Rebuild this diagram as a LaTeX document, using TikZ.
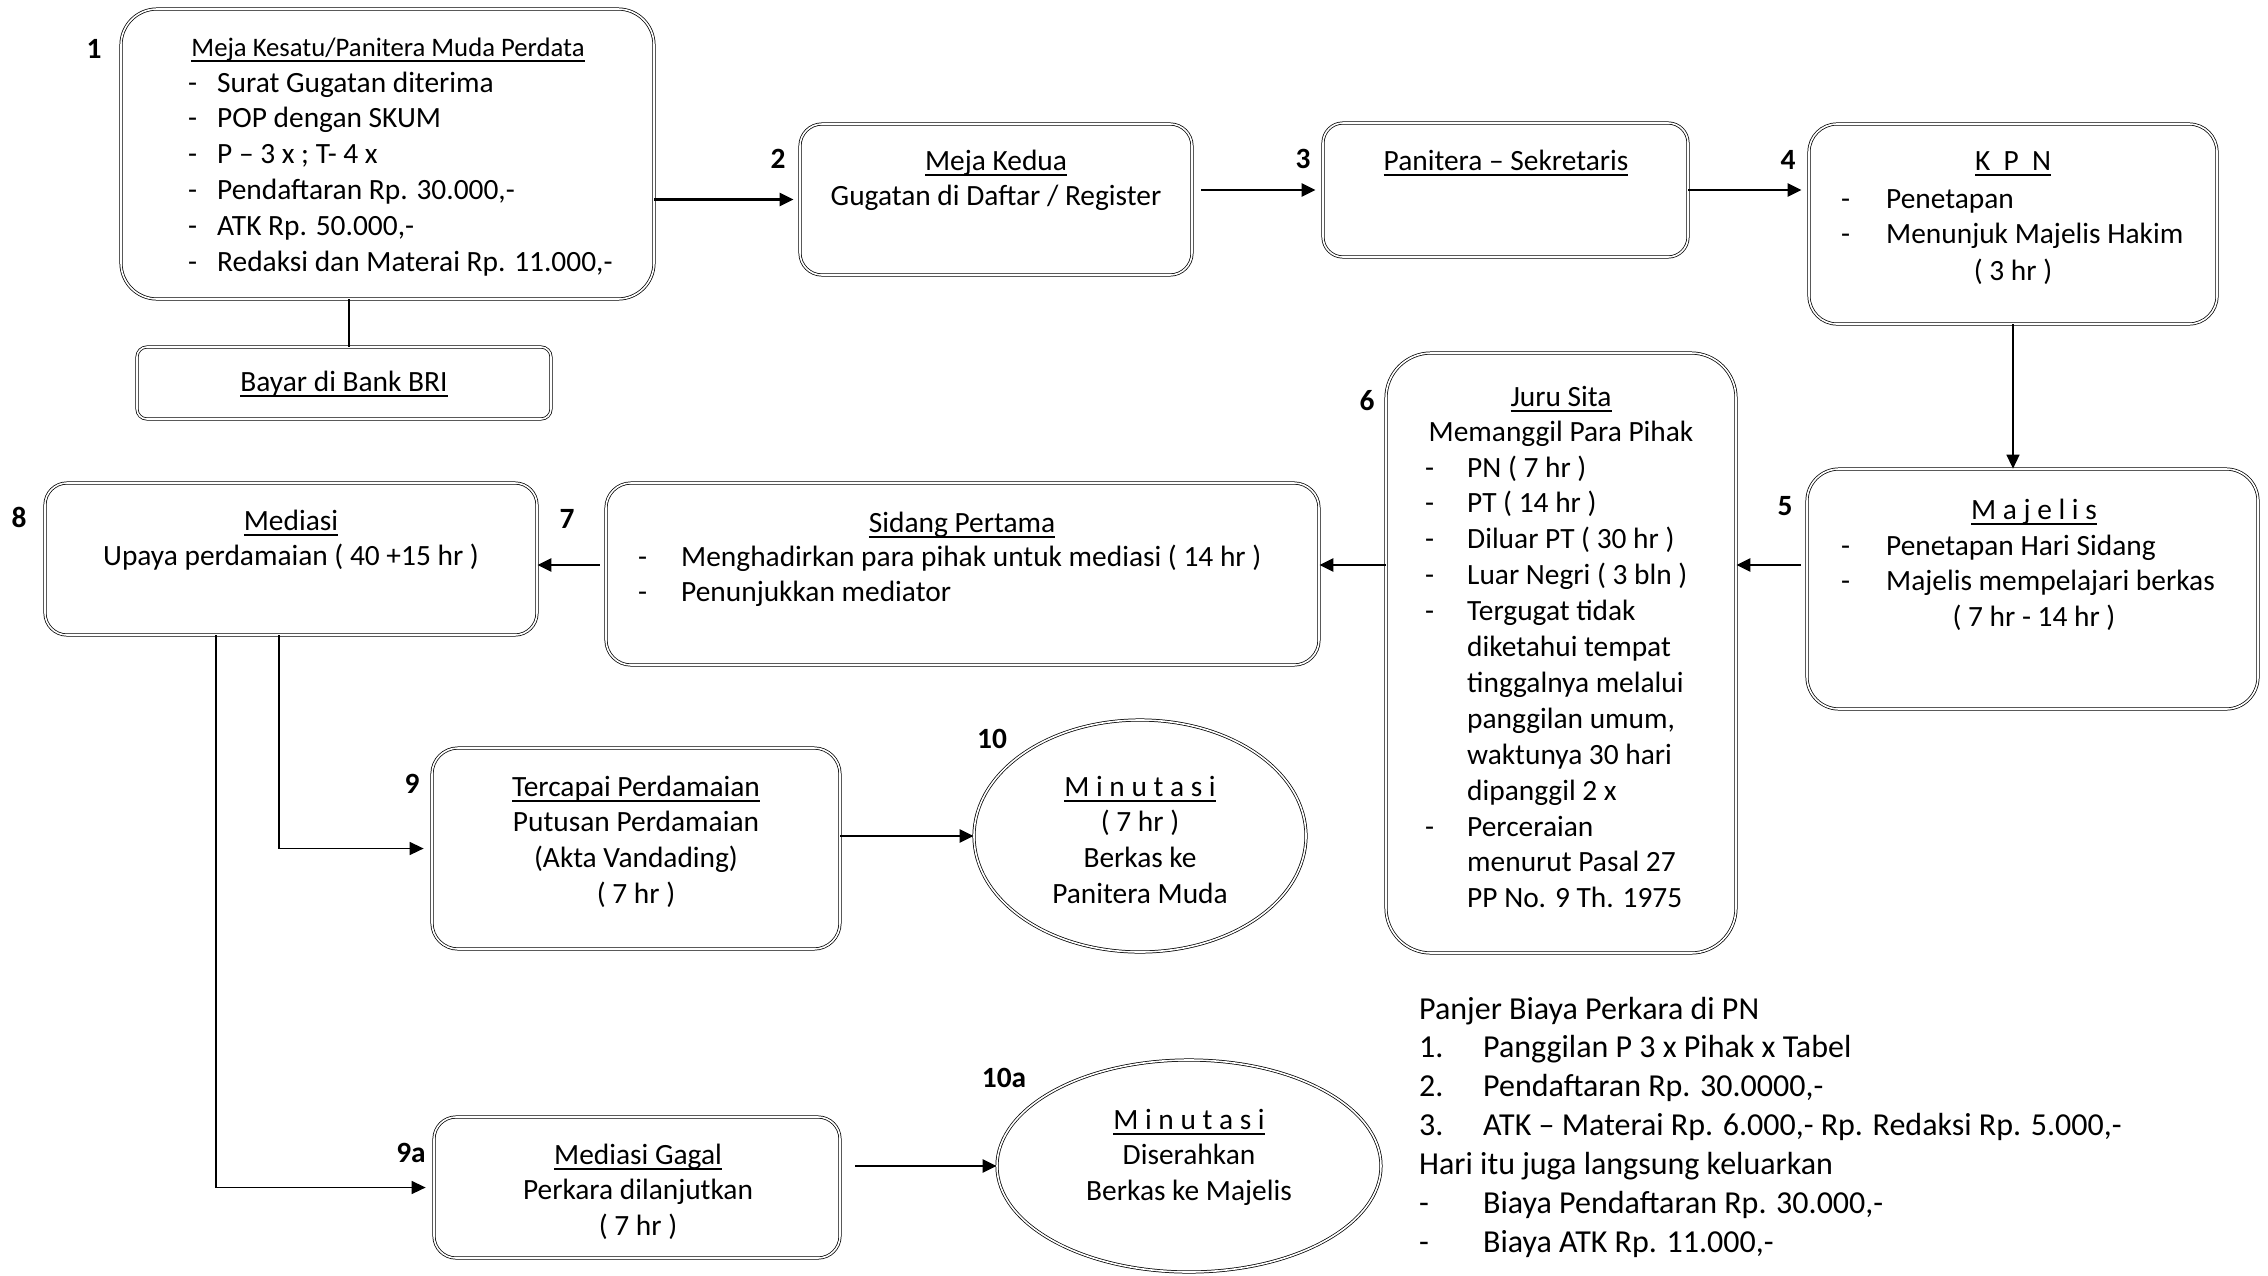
\documentclass[tikz,border=0pt]{standalone}
\usepackage{fontspec}
\setmainfont{Carlito}
\usetikzlibrary{shapes.geometric,arrows.meta,calc}
\newcommand\myul[1]{\leavevmode\setbox0=\hbox{#1}\rlap{\vrule width\wd0 height -0.14em depth 0.21em}\box0}
\newcommand\szbody{\fontsize{29.4}{35.9}\selectfont}
\newcommand\sztitle{\fontsize{26.7}{32.6}\selectfont}
\newcommand\szbig{\fontsize{32}{38.9}\selectfont}
\tikzset{
  box/.style={draw, rectangle, line width=0.75pt, double=white, double distance=1.6pt, inner sep=0pt},
  oval/.style={draw, ellipse, line width=0.75pt, double=white, double distance=1.6pt, inner sep=0pt},
  num/.style={font=\szbody\bfseries, anchor=base, inner sep=0pt, yshift=-1pt},
  txt/.style={font=\szbody, anchor=base, inner sep=0pt, yshift=-3pt},
  ttl/.style={font=\sztitle, anchor=base, inner sep=0pt, yshift=-1pt},
  lst/.style={font=\szbody, anchor=base west, inner sep=0pt, yshift=-3pt},
  big/.style={font=\szbig, anchor=base west, inner sep=0pt, yshift=-2pt},
  arr/.style={-{Triangle[length=14pt,width=13pt]}, line width=2.6pt},
  tarr/.style={-{Triangle[length=14pt,width=13pt]}, line width=1.5pt},
  tline/.style={line width=1.5pt},
}
\begin{document}
\begin{tikzpicture}[x=1pt,y=-1pt]
\useasboundingbox (0,0) rectangle (2268,1275);
% boxes
\node[box, minimum width=533pt, minimum height=290pt, rounded corners=36pt] (b1) at (387.5,154) {};
\node[box, minimum width=414pt, minimum height=72pt, rounded corners=10pt] (bri) at (344,383) {};
\node[box, minimum width=392pt, minimum height=151pt, rounded corners=22pt] (b2) at (996,199.5) {};
\node[box, minimum width=365pt, minimum height=134pt, rounded corners=20pt] (b3) at (1505.5,190) {};
\node[box, minimum width=408pt, minimum height=200pt, rounded corners=28pt] (b4) at (2013,224) {};
\node[box, minimum width=451pt, minimum height=240pt, rounded corners=32pt] (b5) at (2032.5,589) {};
\node[box, minimum width=350pt, minimum height=600pt, rounded corners=45pt] (b6) at (1561,653) {};
\node[box, minimum width=713pt, minimum height=182pt, rounded corners=25pt] (b7) at (962.5,574) {};
\node[box, minimum width=492pt, minimum height=152pt, rounded corners=22pt] (b8) at (291,559) {};
\node[box, minimum width=408pt, minimum height=201pt, rounded corners=26pt] (b9) at (636,848.5) {};
\node[box, minimum width=406pt, minimum height=141pt, rounded corners=22pt] (b9a) at (637,1187.5) {};
\node[oval, minimum width=332pt, minimum height=232pt] (e10) at (1140,836) {};
\node[oval, minimum width=384pt, minimum height=212pt] (e10a) at (1189,1166) {};

% numbers
\node[num] (n1) at (94,57) {1};
\node[num] (n2) at (778,167) {2};
\node[num] (n3) at (1303,167) {3};
\node[num] (n4) at (1788,168) {4};
\node[num] (n5) at (1785,514) {5};
\node[num] (n6) at (1367,409) {6};
\node[num] (n7) at (567,527) {7};
\node[num] (n8) at (19,526) {8};
\node[num] (n9) at (412,792) {9};
\node[num] (n10) at (992,747) {10};
\node[num] (n9a) at (411,1161) {9a};
\node[num] (n10a) at (1004,1086) {10a};

% box 1
\node[ttl] (t1) at (388,55) {\myul{Meja Kesatu/Panitera Muda Perdata}};
\node[lst] (l1) at (188,89) {\begin{tabular}[t]{@{}p{29pt}@{}l@{}}
-&Surat Gugatan diterima\\
-&POP dengan SKUM\\
-&P -- 3 x ; T- 4 x\\
-&Pendaftaran Rp. 30.000,-\\
-&ATK Rp. 50.000,-\\
-&Redaksi dan Materai Rp. 11.000,-
\end{tabular}};
\node[txt] (tbri) at (344,388) {\myul{Bayar di Bank BRI}};

% box 2
\node[txt] (t2) at (996,167) {\begin{tabular}[t]{@{}c@{}}\myul{Meja Kedua}\\Gugatan di Daftar / Register\end{tabular}};
% box 3
\node[txt] (t3) at (1506,167) {\myul{Panitera -- Sekretaris}};
% box 4
\node[txt] (t4) at (2013,167) {\myul{K\ \ P\ \ N}};
\node[lst] (l4) at (1841,205) {\begin{tabular}[t]{@{}p{45pt}@{}l@{}}
-&Penetapan\\
-&Menunjuk Majelis Hakim
\end{tabular}};
\node[txt] (t4b) at (2013,277) {( 3 hr )};
% box 5
\node[txt] (t5) at (2034,516) {\myul{M a j e l i s}};
\node[lst] (l5) at (1841,552) {\begin{tabular}[t]{@{}p{45pt}@{}l@{}}
-&Penetapan Hari Sidang\\
-&Majelis mempelajari berkas
\end{tabular}};
\node[txt] (t5b) at (2034,623) {( 7 hr - 14 hr )};
% box 6
\node[txt] (t6) at (1561,403) {\begin{tabular}[t]{@{}c@{}}\myul{Juru Sita}\\Memanggil Para Pihak\end{tabular}};
\node[lst] (l6) at (1425,474) {\begin{tabular}[t]{@{}p{42pt}@{}l@{}}
-&PN ( 7 hr )\\
-&PT ( 14 hr )\\
-&Diluar PT ( 30 hr )\\
-&Luar Negri ( 3 bln )\\
-&Tergugat tidak\\
&diketahui tempat\\
&tinggalnya melalui\\
&panggilan umum,\\
&waktunya 30 hari\\
&dipanggil 2 x\\
-&Perceraian\\
&menurut Pasal 27\\
&PP No. 9 Th. 1975
\end{tabular}};
% box 7
\node[txt] (t7) at (962,529) {\myul{Sidang Pertama}};
\node[lst] (l7) at (638,563) {\begin{tabular}[t]{@{}p{43pt}@{}l@{}}
-&Menghadirkan para pihak untuk mediasi ( 14 hr )\\
-&Penunjukkan mediator
\end{tabular}};
% box 8
\node[txt] (t8) at (291,527) {\begin{tabular}[t]{@{}c@{}}\myul{Mediasi}\\Upaya perdamaian ( 40 +15 hr )\end{tabular}};
% box 9
\node[txt] (t9) at (636,793) {\begin{tabular}[t]{@{}c@{}}\myul{Tercapai Perdamaian}\\Putusan Perdamaian\\(Akta Vandading)\\( 7 hr )\end{tabular}};
% ellipse 10
\node[txt] (t10) at (1140,793) {\begin{tabular}[t]{@{}c@{}}\myul{M i n u t a s i}\\( 7 hr )\\Berkas ke\\Panitera Muda\end{tabular}};
% box 9a
\node[txt] (t9a) at (638,1161) {\begin{tabular}[t]{@{}c@{}}\myul{Mediasi Gagal}\\Perkara dilanjutkan\\( 7 hr )\end{tabular}};
% ellipse 10a
\node[txt] (t10a) at (1189,1126) {\begin{tabular}[t]{@{}c@{}}\myul{M i n u t a s i}\\Diserahkan\\Berkas ke Majelis\end{tabular}};

% bottom-right notes
\node[big] (notes) at (1419,1017) {\begin{tabular}[t]{@{}p{64pt}@{}l@{}}
\multicolumn{2}{@{}l@{}}{Panjer Biaya Perkara di PN}\\
1.&Panggilan P 3 x Pihak x Tabel\\
2.&Pendaftaran Rp. 30.0000,-\\
3.&ATK -- Materai Rp. 6.000,- Rp. Redaksi Rp. 5.000,-\\
\multicolumn{2}{@{}l@{}}{Hari itu juga langsung keluarkan}\\
-&Biaya Pendaftaran Rp. 30.000,-\\
-&Biaya ATK Rp. 11.000,-
\end{tabular}};

% connectors
\coordinate (ay) at (0,565);
\coordinate (xl) at (349,0);
\coordinate (xa) at (279,0);
\coordinate (xb) at (216,0);
\draw[tline] (b1.south -| xl) -- (bri.north -| xl);
\draw[arr, shorten >=6pt] (b1.east |- b2.west) -- (b2.west);
\draw[arr, shorten <=9pt, shorten >=7pt] (b2.east |- b3.west) -- (b3.west);
\draw[arr, shorten >=7pt] (b3.east) -- (b3.east -| b4.west);
\draw[tarr] (b4.south) -- (b4.south |- b5.north);
\draw[arr, shorten <=6pt] (b5.west |- ay) -- (b6.east |- ay);
\draw[arr] (b6.west |- ay) -- (b7.east |- ay);
\draw[arr, shorten <=6pt] (b7.west |- ay) -- (b8.east |- ay);
\draw[tarr, shorten >=8pt] (b8.south -| xa) |- (b9.west);
\draw[tarr, shorten >=8pt] (b8.south -| xb) |- (b9a.west);
\draw[arr] (b9.east |- e10.west) -- (e10.west);
\draw[arr, shorten <=15pt] (b9a.east |- e10a.west) -- (e10a.west);
\end{tikzpicture}
\end{document}
